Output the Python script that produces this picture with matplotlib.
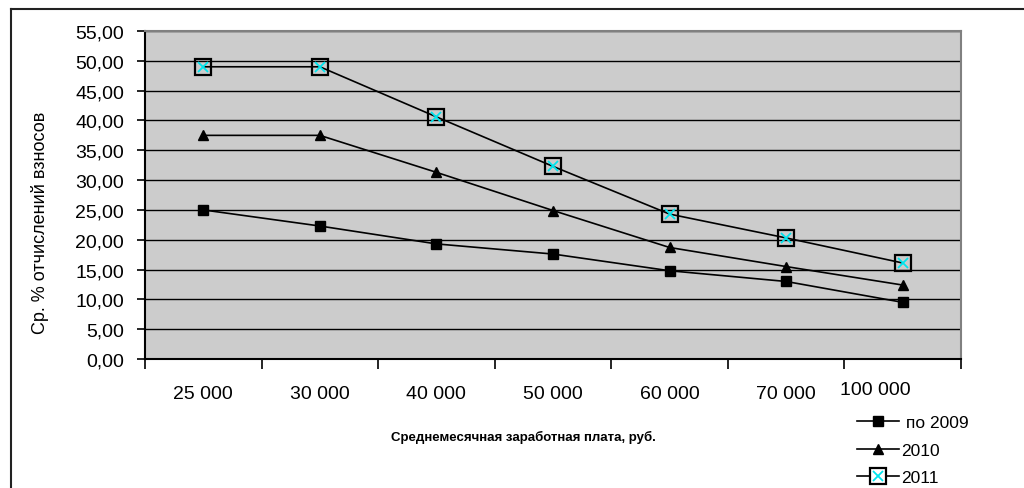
import matplotlib
matplotlib.use("Agg")
import matplotlib.pyplot as plt
from matplotlib.lines import Line2D
from matplotlib.transforms import blended_transform_factory, offset_copy

plt.rcParams['font.family'] = ['Liberation Sans', 'DejaVu Sans']

categories = ["25 000", "30 000", "40 000", "50 000", "60 000", "70 000", "100 000"]
s2009 = [25.0, 22.3, 19.3, 17.6, 14.8, 13.0, 9.5]
s2010 = [37.5, 37.5, 31.3, 24.9, 18.7, 15.5, 12.4]
s2011 = [49.0, 49.0, 40.6, 32.3, 24.3, 20.3, 16.1]
yticks = [0, 5, 10, 15, 20, 25, 30, 35, 40, 45, 50, 55]
series_names = ["по 2009", "2010", "2011"]

W, H = 1024, 489
fig = plt.figure(figsize=(W / 100, H / 100), dpi=100)

# outer frame lines (top and left)
fig.add_artist(Line2D([11 / W, 1.0], [1 - 10 / H, 1 - 10 / H], color='#222222', lw=1.5))
fig.add_artist(Line2D([11 / W, 11 / W], [0, 1 - 10 / H], color='#222222', lw=1.5))

ax = fig.add_axes([145 / W, 1 - 360 / H, (961 - 145) / W, (360 - 32) / H])
ax.set_facecolor('#cccccc')

x = list(range(len(categories)))
ax.plot(x, s2009, color='black', lw=1.2, marker='s', ms=7, mfc='black', mec='black', zorder=3)
ax.plot(x, s2010, color='black', lw=1.2, marker='^', ms=7, mfc='black', mec='black', zorder=3)
ax.plot(x, s2011, color='black', lw=1.2, marker='s', ms=11, mfc='none', mec='black', mew=1.6, zorder=3)
ax.plot(x, s2011, ls='none', marker='x', ms=7, mec='#00e5ee', mew=1.3, zorder=4)

ax.set_xlim(-0.5, len(categories) - 0.5)
ax.set_ylim(0, 55)
ax.set_yticks(yticks)
ax.set_yticklabels([f"{v:.2f}".replace('.', ',') for v in yticks], fontsize=14)
ax.yaxis.grid(True, color='black', lw=1.0)
ax.set_axisbelow(True)

ax.set_xticks([i - 0.5 for i in range(len(categories) + 1)])
ax.set_xticklabels([])
ax.tick_params(axis='x', which='major', length=7, width=1.2, direction='out')
ax.tick_params(axis='y', length=6, width=1.2, direction='out', pad=9)

# category labels
trans = blended_transform_factory(ax.transData, ax.transAxes)
for i, lab in enumerate(categories):
    dx, dy = 0, -35
    if i == len(categories) - 1:
        dx, dy = -27, -31
    t = offset_copy(trans, fig=fig, x=dx, y=dy, units='dots')
    ax.text(i, 0, lab, transform=t, ha='center', va='center', fontsize=14)

for side in ['left', 'bottom']:
    ax.spines[side].set_color('black')
    ax.spines[side].set_linewidth(1.5)
for side in ['top', 'right']:
    ax.spines[side].set_color('#808080')
    ax.spines[side].set_linewidth(1.5)

fig.text(40 / W, 1 - 223 / H, "Ср. % отчислений взносов", fontsize=13,
         rotation=90, ha='center', va='center')
fig.text(523 / W, 1 - 437 / H, "Среднемесячная заработная плата, руб.",
         fontsize=9.5, fontweight='bold', ha='center', va='center')

h1 = Line2D([], [], color='black', lw=1.2, marker='s', ms=7, mfc='black')
h2 = Line2D([], [], color='black', lw=1.2, marker='^', ms=7, mfc='black')
h3a = Line2D([], [], color='black', lw=1.2, marker='s', ms=11, mfc='white', mec='black', mew=1.6)
h3b = Line2D([], [], ls='none', marker='x', ms=7, mec='#00e5ee', mew=1.3)
leg = fig.legend([h1, h2, (h3a, h3b)], [" " + series_names[0], series_names[1], series_names[2]],
                 loc='upper left', bbox_to_anchor=(845 / W, 1 - 404 / H),
                 frameon=False, fontsize=12.5, handlelength=2.4, handletextpad=0.15,
                 labelspacing=0.7, borderpad=0.2)

fig.savefig("out.png", dpi=100, facecolor='white')
